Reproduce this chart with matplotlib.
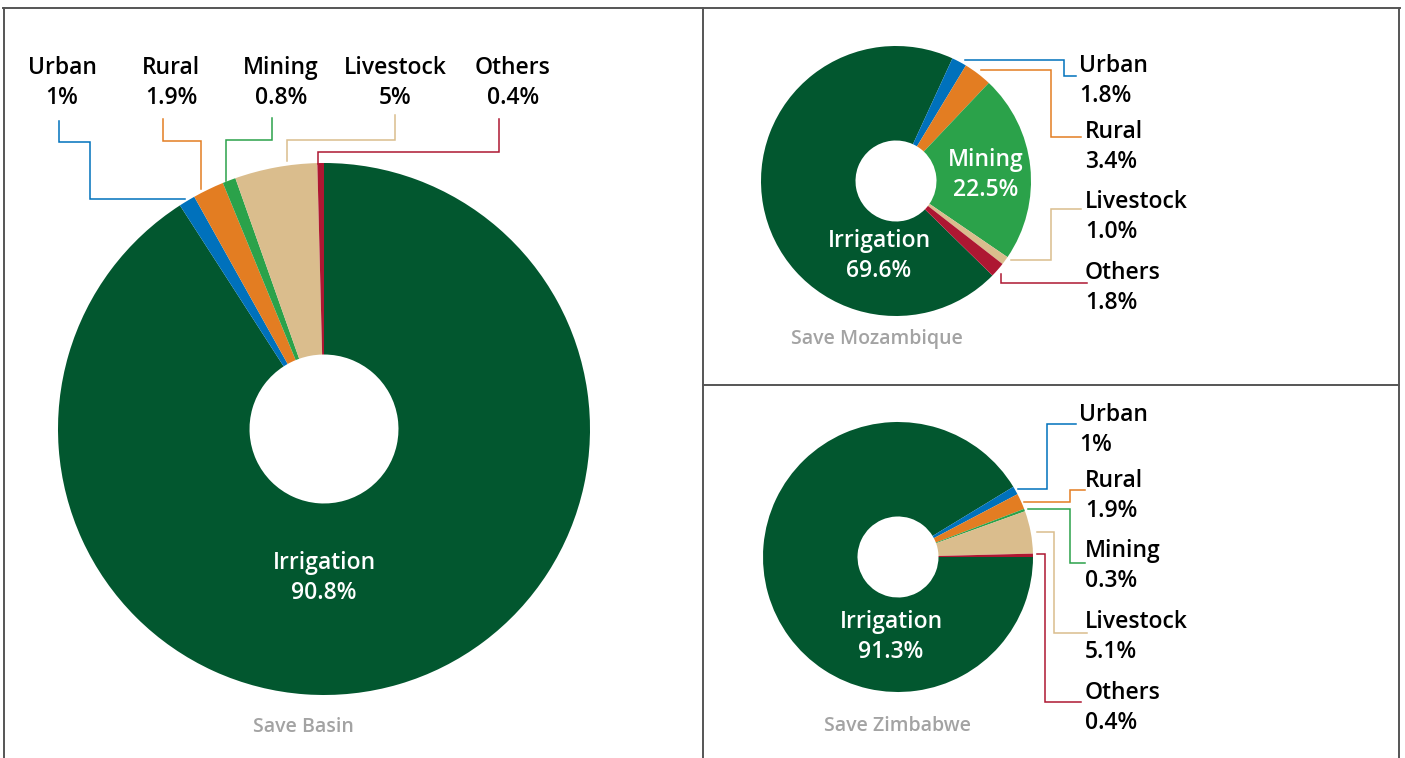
import matplotlib.pyplot as plt

# sector shares (%) for each part of the Save catchment
sectors = ['Irrigation', 'Urban', 'Rural', 'Mining', 'Livestock', 'Others']
basin = [90.8, 1, 1.9, 0.8, 5, 0.4]
mozambique = [69.6, 1.8, 3.4, 22.5, 1.0, 1.8]
zimbabwe = [91.3, 1, 1.9, 0.3, 5.1, 0.4]

basin_labels = ['90.8%', '1%', '1.9%', '0.8%', '5%', '0.4%']
mozambique_labels = ['69.6%', '1.8%', '3.4%', '22.5%', '1.0%', '1.8%']
zimbabwe_labels = ['91.3%', '1%', '1.9%', '0.3%', '5.1%', '0.4%']

colors = ['#02572F', '#0071BC', '#E37D22', '#2BA24A', '#DABD8D', '#AE1732']

W, H = 1405, 758
plt.rcParams['font.family'] = ['Open Sans', 'DejaVu Sans']

fig = plt.figure(figsize=(W / 100, H / 100), dpi=100)
ax = fig.add_axes([0, 0, 1, 1])


def Y(y):
    # pixel row -> data y
    return H - y


def donut(values, cx, cy, r, hole, start):
    ax.pie(values, colors=colors, center=(cx, Y(cy)), radius=r,
           startangle=start, counterclock=False,
           wedgeprops=dict(width=r * (1 - hole), linewidth=0))


def connector(pts, color):
    ax.plot([p[0] for p in pts], [Y(p[1]) for p in pts], color=color,
            lw=1.1, solid_joinstyle='miter', clip_on=False)


def label(x, y, text, ha='left', color='black', size=16.5, weight='semibold'):
    # +3 px: va='center' sits the glyphs a little high for this font
    ax.text(x, Y(y + 3), text, ha=ha, va='center', color=color, fontsize=size,
            fontweight=weight, linespacing=1.33)


def title(x, y, text):
    label(x, y, text, ha='center', color='#A3A3A3', size=14, weight='semibold')


# panel frame
frame = dict(color='#555555', lw=1.4)
ax.plot([3, 1400], [Y(8), Y(8)], **frame)
ax.plot([4, 4], [Y(8), 0], **frame)
ax.plot([703, 703], [Y(8), 0], **frame)
ax.plot([1399, 1399], [Y(8), 0], **frame)
ax.plot([703, 1399], [Y(385), Y(385)], **frame)

# Save Basin
donut(basin, 324, 429, 266, 0.28, 90)
label(324, 575, sectors[0] + '\n' + basin_labels[0], ha='center', color='white')
top_x = [62, 171, 281, 395, 513]
for i, x in enumerate(top_x):
    label(x, 80, sectors[i + 1] + '\n' + basin_labels[i + 1], ha='center')
basin_lines = [
    [(59, 121), (59, 142), (90, 142), (90, 199), (185, 199)],
    [(163, 119), (163, 141), (201, 141), (201, 189)],
    [(272, 118), (272, 140), (226, 140), (226, 181)],
    [(395, 115), (395, 140), (287, 140), (287, 161)],
    [(499, 119), (499, 152), (318, 152), (318, 164)],
]
for i, pts in enumerate(basin_lines):
    connector(pts, colors[i + 1])
title(303, 724, 'Save Basin')

# Save Mozambique
donut(mozambique, 896, 181, 135, 0.30, -44.4)
label(986, 172, sectors[3] + '\n' + mozambique_labels[3], ha='center', color='white')
label(879, 253, sectors[0] + '\n' + mozambique_labels[0], ha='center', color='white')
moz_text = {1: (1079, 78), 2: (1085, 144), 4: (1085, 214), 5: (1085, 285)}
for i, (x, y) in moz_text.items():
    label(x, y, sectors[i] + '\n' + mozambique_labels[i])
moz_lines = {
    1: [(965, 60), (1064, 60), (1064, 76), (1076, 76)],
    2: [(981, 70), (1051, 70), (1051, 137), (1081, 137)],
    4: [(1011, 260), (1051, 260), (1051, 209), (1081, 209)],
    5: [(1001, 274), (1001, 283), (1087, 283)],
}
for i, pts in moz_lines.items():
    connector(pts, colors[i])
title(877, 336, 'Save Mozambique')

# Save Zimbabwe
donut(zimbabwe, 898, 557, 135, 0.30, 0)
label(891, 634, sectors[0] + '\n' + zimbabwe_labels[0], ha='center', color='white')
zim_text = {1: (1079, 427), 2: (1085, 493), 3: (1085, 563), 4: (1085, 634), 5: (1085, 705)}
for i, (x, y) in zim_text.items():
    label(x, y, sectors[i] + '\n' + zimbabwe_labels[i])
zim_lines = {
    1: [(1018, 489), (1047, 489), (1047, 424), (1076, 424)],
    2: [(1024, 502), (1070, 502), (1070, 490), (1085, 490)],
    3: [(1028, 509), (1070, 509), (1070, 563), (1085, 563)],
    4: [(1037, 532), (1054, 532), (1054, 633), (1087, 633)],
    5: [(1037, 554), (1045, 554), (1045, 702), (1081, 702)],
}
for i, pts in zim_lines.items():
    connector(pts, colors[i])
title(897, 723, 'Save Zimbabwe')

# pie() resets the limits, so fix them last
ax.set_xlim(0, W)
ax.set_ylim(0, H)
ax.set_aspect('equal')
ax.axis('off')

fig.savefig('out.png', dpi=100)
